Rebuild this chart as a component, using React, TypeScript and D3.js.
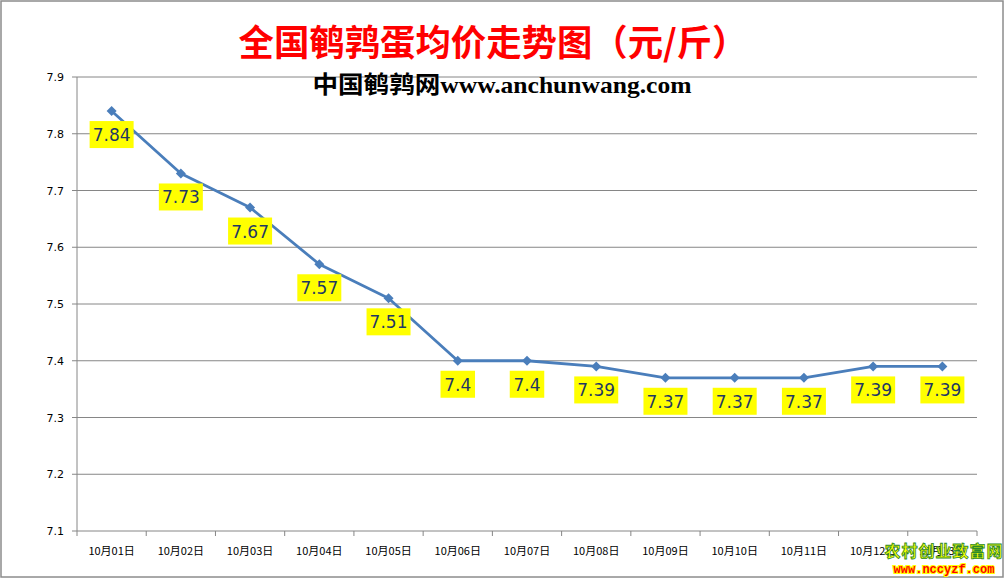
import React from "react";
import * as d3 from "d3";

const categories = ["10月01日","10月02日","10月03日","10月04日","10月05日","10月06日","10月07日","10月08日","10月09日","10月10日","10月11日","10月12日","10月13日"];
const values = [7.84, 7.73, 7.67, 7.57, 7.51, 7.4, 7.4, 7.39, 7.37, 7.37, 7.37, 7.39, 7.39];
const yTicks = [7.1, 7.2, 7.3, 7.4, 7.5, 7.6, 7.7, 7.8, 7.9];

const W = 1005, H = 579;
const left = 77, right = 977, top = 77, bottom = 531;

export default function App() {
  const x = d3.scaleBand<string>().domain(categories).range([left, right]);
  const y = d3.scaleLinear().domain([7.1, 7.9]).range([bottom, top]);
  const line = d3.line<number>().x((_, i) => x(categories[i])! + x.bandwidth() / 2).y(d => y(d));
  const diamond = "M0,-5L5,0L0,5L-5,0Z";
  const fmt = (v: number) => String(v);
  const boundaries = categories.map(c => x(c)!).concat([right]);
  return (
    <svg width={W} height={H} style={{ position: "absolute", left: 0, top: 0 }}>
      <rect x={0} y={0} width={W} height={H} fill="#fff" />
      <rect x={1} y={1} width={W - 3} height={H - 3} fill="none" stroke="#8c8c8c" strokeWidth={1.5} />
      <text x={493} y={56} textAnchor="middle" fill="#ff0000" fontSize={36} fontWeight="bold" fontFamily="'Noto Sans CJK SC', sans-serif" textLength={509} lengthAdjust="spacingAndGlyphs">全国鹌鹑蛋均价走势图（元/斤）</text>
      {yTicks.map(t => (
        <g key={t}>
          <line x1={left} x2={right} y1={y(t)} y2={y(t)} stroke="#868686" strokeWidth={1} />
          <line x1={left - 5} x2={left} y1={y(t)} y2={y(t)} stroke="#868686" strokeWidth={1} />
          <text x={64} y={y(t) + 4} textAnchor="end" fontSize={11} fontFamily="'DejaVu Sans', sans-serif" fill="#000">{t.toFixed(1)}</text>
        </g>
      ))}
      <line x1={left} x2={left} y1={top} y2={bottom} stroke="#868686" strokeWidth={1} />
      {boundaries.map((b, i) => (
        <line key={i} x1={b} x2={b} y1={bottom} y2={bottom + 5} stroke="#868686" strokeWidth={1} />
      ))}
      {categories.map(c => (
        <text key={c} x={x(c)! + x.bandwidth() / 2} y={555} textAnchor="middle" fontSize={11} fontFamily="'Noto Sans CJK SC', sans-serif" fill="#000">{c}</text>
      ))}
      <text x={502} y={93} textAnchor="middle" fontSize={24} fontWeight="bold" fill="#000" fontFamily="'Liberation Serif', serif" textLength={379} lengthAdjust="spacingAndGlyphs">
        <tspan fontFamily="'Noto Sans CJK SC', sans-serif">中国鹌鹑网</tspan>www.anchunwang.com
      </text>
      <path d={line(values)!} fill="none" stroke="#4A7EBB" strokeWidth={2.8} strokeLinejoin="round" />
      {values.map((v, i) => {
        const cx = x(categories[i])! + x.bandwidth() / 2;
        const cy = y(v);
        const label = fmt(v);
        const bw = label.length * 9.5 + 6;
        return (
          <g key={i}>
            <path d={diamond} transform={`translate(${cx},${cy})`} fill="#4A7EBB" />
            <rect x={cx - bw / 2} y={cy + 10} width={bw} height={27} fill="#ffff00" />
            <text x={cx} y={cy + 30} textAnchor="middle" fontSize={17} fill="#1f3864" fontFamily="'DejaVu Sans', sans-serif">{label}</text>
          </g>
        );
      })}
      <text x={944} y={557} textAnchor="middle" fontSize={16} fontWeight="bold" fill="#ffff00" stroke="#2a8a2a" strokeWidth={0.8} fontFamily="'Noto Sans CJK SC', sans-serif" letterSpacing={1}>农村创业致富网</text>
      <text x={944} y={573} textAnchor="middle" fontSize={12} fontWeight="bold" fill="#ff0000" stroke="#ffff00" strokeWidth={2.2} paintOrder="stroke" fontFamily="'Liberation Mono', monospace">www.nccyzf.com</text>
    </svg>
  );
}
